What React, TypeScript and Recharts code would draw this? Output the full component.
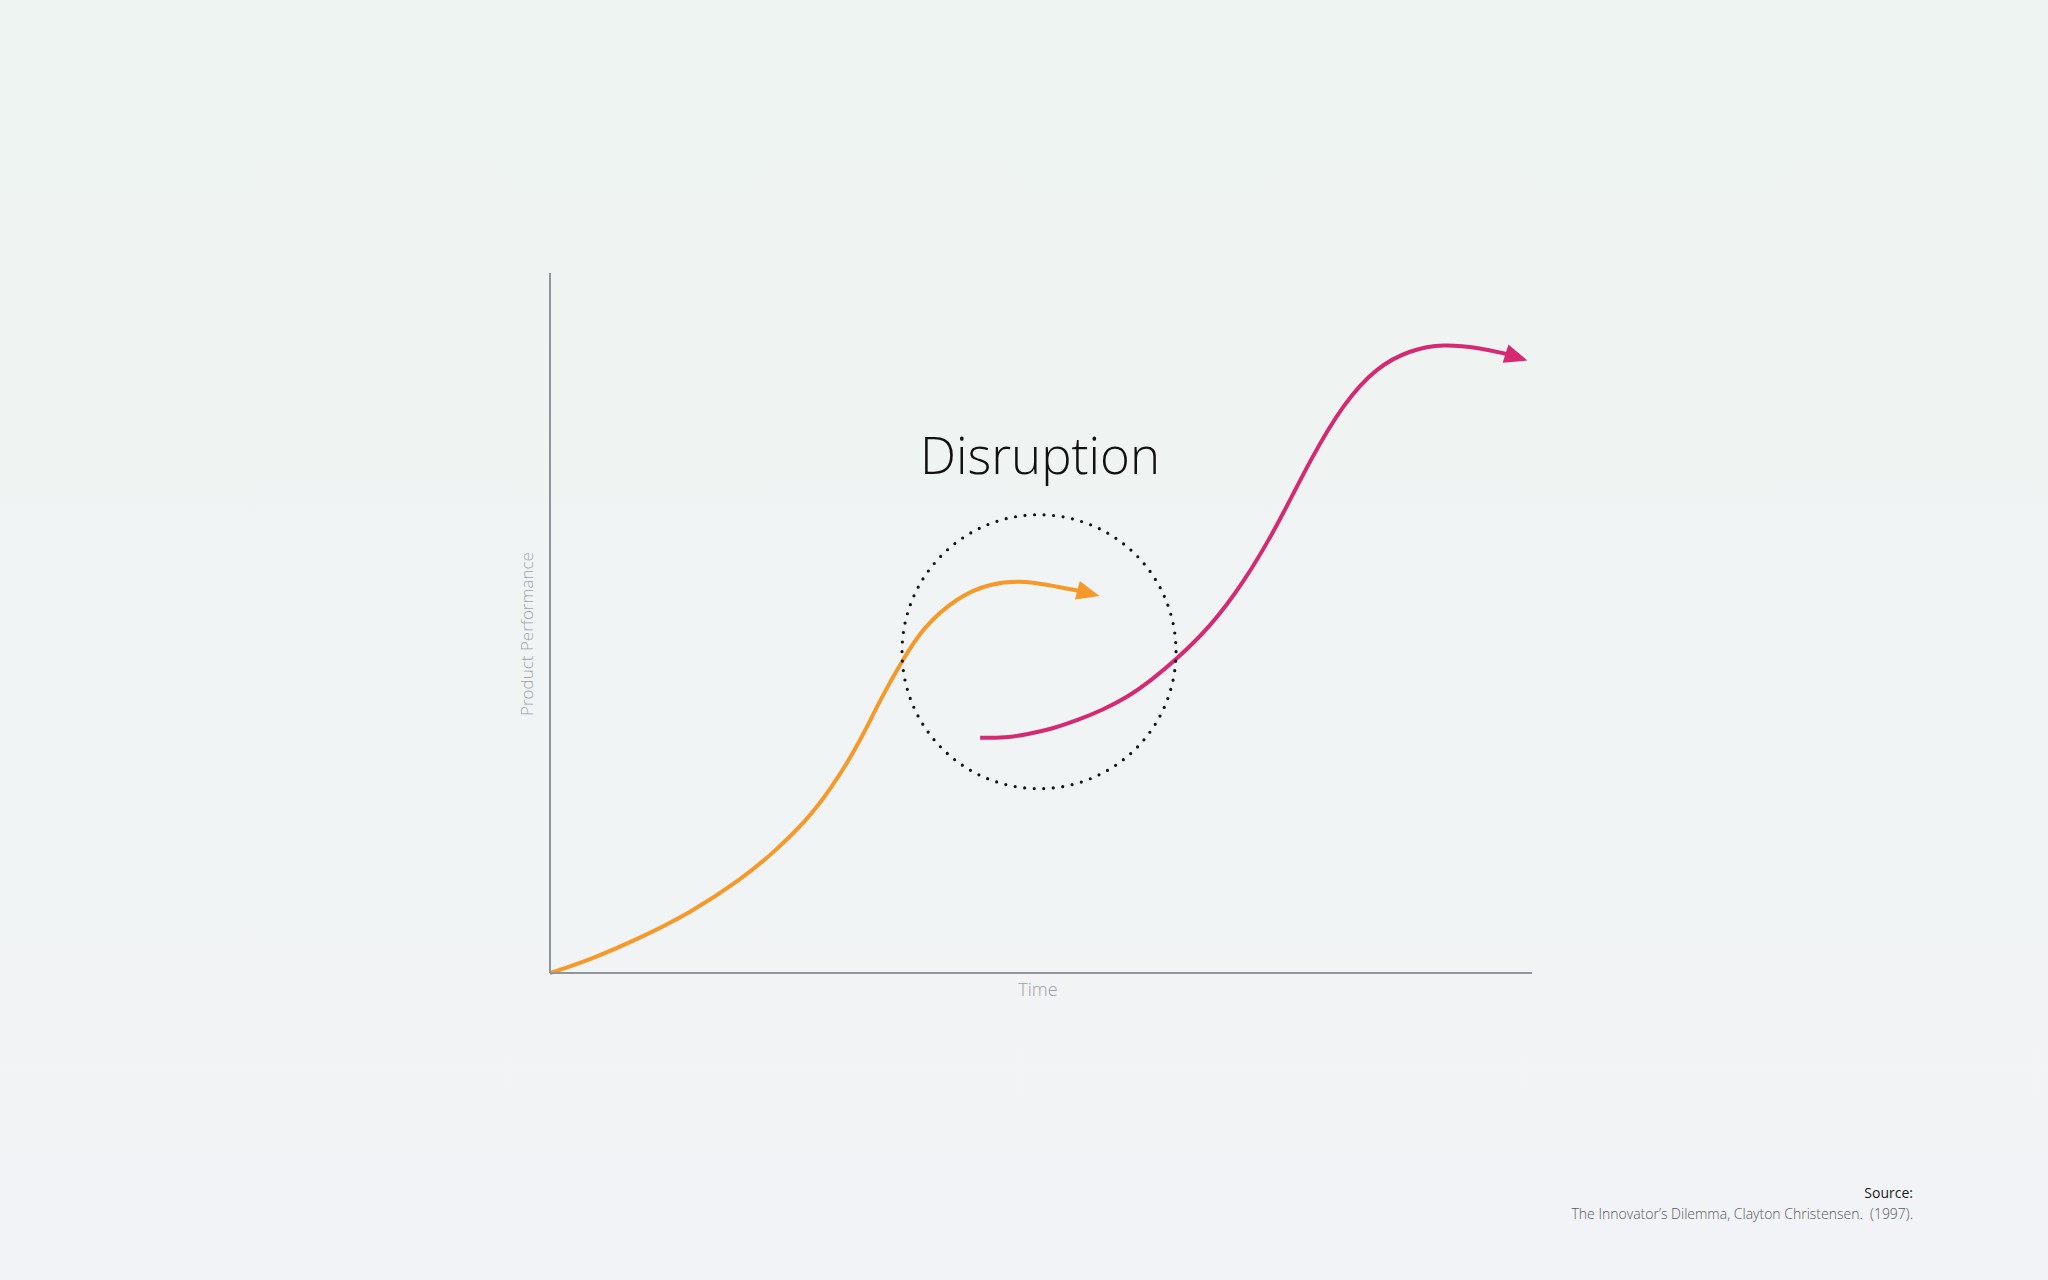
import React from 'react';
import { ComposedChart, Line, XAxis, YAxis, ReferenceDot } from 'recharts';

// Incumbent technology S-curve (orange)
const incumbentTime = [0, 4.1, 9.2, 14.3, 19.4, 22.7, 26.2, 28.5, 31.3, 33.6, 35.9, 38.0, 41.5, 44.8, 48.4, 51.9, 53.9];
const incumbentPerf = [0, 1.9, 5.0, 8.6, 13.3, 17.1, 21.9, 26.1, 32.3, 39.0, 44.7, 49.4, 53.7, 55.7, 56.1, 55.1, 54.6];

// Disruptive technology S-curve (magenta)
const entrantTime = [43.8, 46.4, 48.6, 51.2, 53.7, 56.3, 58.8, 61.2, 63.7, 67.2, 70.6, 74.0, 77.4, 80.8, 84.2, 87.6, 90.9, 94.7, 97.5];
const entrantPerf = [33.6, 33.6, 34.1, 34.9, 36.1, 37.6, 39.4, 41.8, 44.7, 49.4, 55.7, 63.7, 73.3, 81.4, 86.6, 89.0, 89.9, 89.3, 88.4];

const disruptionTime = [49.8];
const disruptionPerf = [45.9];
const headlineTime = [49.9];
const headlinePerf = [71.3];

const headline = 'Disruption';
const xAxisLabel = 'Time';
const yAxisLabel = 'Product Performance';
const sourceTitle = 'Source:';
const sourceText = 'The Innovator\u2019s Dilemma, Clayton Christensen.  (1997).';

const incumbentData = incumbentTime.map((t, i) => ({ time: t, perf: incumbentPerf[i] }));
const entrantData = entrantTime.map((t, i) => ({ time: t, perf: entrantPerf[i] }));

const ORANGE = '#f5992b';
const MAGENTA = '#d52a72';
const AXIS = '#8f959b';
const FONT = '"Open Sans", "Noto Sans", sans-serif';

const makeArrowDot = (color: string, count: number) => (props: any) => {
  const { cx, cy, index, points } = props;
  if (index !== count - 1 || cx == null || cy == null) {
    return <g key={`d-${index}`} />;
  }
  const prev = points && points[index - 1];
  const ang = prev ? Math.atan2(cy - prev.y, cx - prev.x) + 0.08 : 0.2;
  const len = 21;
  const half = 9.5;
  const back = 2;
  const bx = cx - back * Math.cos(ang);
  const by = cy - back * Math.sin(ang);
  const tx = cx + len * Math.cos(ang);
  const ty = cy + len * Math.sin(ang);
  const px = -Math.sin(ang) * half;
  const py = Math.cos(ang) * half;
  const d = `M${tx},${ty} L${bx + px},${by + py} L${bx - px},${by - py} Z`;
  return <path key={`d-${index}`} d={d} fill={color} stroke="none" />;
};

const XLabel = (props: any) => {
  const vb = props.viewBox || {};
  return (
    <text
      x={vb.x + vb.width / 2 - 3}
      y={vb.y + 23}
      textAnchor="middle"
      fontFamily={FONT}
      fontWeight={300}
      fontSize={18}
      fill="#9ba0a6"
    >
      {xAxisLabel}
    </text>
  );
};

const YLabel = (props: any) => {
  const vb = props.viewBox || {};
  const x = vb.x + vb.width - 17;
  const y = vb.y + vb.height / 2 + 11;
  return (
    <text
      x={x}
      y={y}
      transform={`rotate(-90, ${x}, ${y})`}
      textAnchor="middle"
      fontFamily={FONT}
      fontWeight={300}
      fontSize={17}
      fill="#a0a5aa"
    >
      {yAxisLabel}
    </text>
  );
};

export default function App() {
  return (
    <div
      style={{
        position: 'absolute',
        left: 0,
        top: 0,
        width: 2048,
        height: 1280,
        overflow: 'hidden',
        background: 'linear-gradient(180deg, #eef4f2 0%, #f0f4f4 50%, #f2f3f6 100%)',
      }}
    >
      <div style={{ position: 'absolute', left: 0, top: 0 }}>
        <ComposedChart
          width={2048}
          height={1280}
          margin={{ top: 273, right: 516, bottom: 306, left: 549 }}
        >
          <XAxis
            type="number"
            dataKey="time"
            domain={[0, 100]}
            allowDataOverflow
            tick={false}
            tickLine={false}
            height={1}
            axisLine={{ stroke: AXIS, strokeWidth: 2 }}
            label={<XLabel />}
          />
          <YAxis
            type="number"
            dataKey="perf"
            domain={[0, 100]}
            tick={false}
            tickLine={false}
            width={1}
            axisLine={{ stroke: AXIS, strokeWidth: 2 }}
            label={<YLabel />}
          />
          <ReferenceDot
            x={disruptionTime[0]}
            y={disruptionPerf[0]}
            r={137}
            shape={(p: any) => (
              <circle
                cx={p.cx}
                cy={p.cy}
                r={137}
                fill="none"
                stroke="#111"
                strokeWidth={3.2}
                strokeLinecap="round"
                strokeDasharray={`0 ${(2 * Math.PI * 137) / 90}`}
              />
            )}
          />
          <ReferenceDot
            x={headlineTime[0]}
            y={headlinePerf[0]}
            r={0}
            shape={(p: any) => (
              <text
                x={p.cx}
                y={p.cy}
                textAnchor="middle"
                fontFamily={FONT}
                fontWeight={300}
                fontSize={51}
                fill="#111"
              >
                {headline}
              </text>
            )}
          />
          <Line
            data={incumbentData}
            dataKey="perf"
            type="basis"
            stroke={ORANGE}
            strokeWidth={4}
            dot={makeArrowDot(ORANGE, incumbentData.length)}
            activeDot={false}
            isAnimationActive={false}
          />
          <Line
            data={entrantData}
            dataKey="perf"
            type="basis"
            stroke={MAGENTA}
            strokeWidth={4}
            dot={makeArrowDot(MAGENTA, entrantData.length)}
            activeDot={false}
            isAnimationActive={false}
          />
        </ComposedChart>
      </div>
      <div
        style={{
          position: 'absolute',
          right: 135,
          top: 1182,
          textAlign: 'right',
          fontFamily: FONT,
          fontSize: 14,
          lineHeight: '21px',
          whiteSpace: 'pre',
        }}
      >
        <div style={{ color: '#1a1a1a', fontWeight: 400 }}>{sourceTitle}</div>
        <div style={{ color: '#55585d', fontWeight: 300 }}>{sourceText}</div>
      </div>
    </div>
  );
}
